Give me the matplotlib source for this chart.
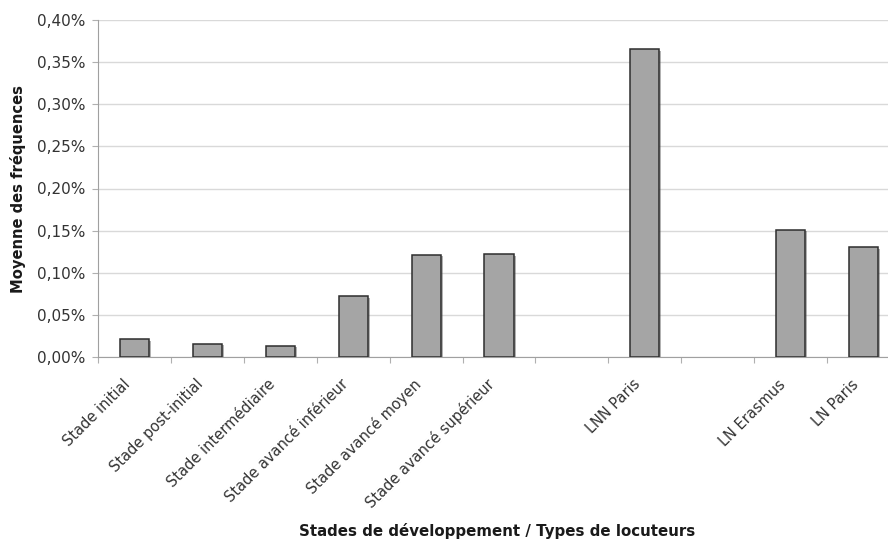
import numpy as np
import matplotlib
matplotlib.use("Agg")
import matplotlib.pyplot as plt
import matplotlib.patheffects as pe
import matplotlib.transforms as mtransforms
from matplotlib.ticker import FuncFormatter

categories = ["Stade initial", "Stade post-initial", "Stade intermédiaire",
              "Stade avancé inférieur", "Stade avancé moyen", "Stade avancé supérieur",
              "", "LNN Paris", "", "LN Erasmus", "LN Paris"]
values = [0.021, 0.016, 0.013, 0.072, 0.121, 0.122, np.nan, 0.365, np.nan, 0.151, 0.130]
y_ticks = [0.00, 0.05, 0.10, 0.15, 0.20, 0.25, 0.30, 0.35, 0.40]

W, H = 888, 541
fig = plt.figure(figsize=(W / 100, H / 100), dpi=100)
ax = fig.add_axes([98 / W, (H - 357) / H, (900 - 98) / W, (357 - 20) / H])

x = np.arange(len(categories))
bars = ax.bar(x, values, width=0.4, color="#a5a5a5", edgecolor="#2e2e2e", linewidth=1.1, zorder=3)
for b in bars:
    b.set_path_effects([pe.SimplePatchShadow(offset=(1.5, -1.0), shadow_rgbFace="#555555", alpha=0.45), pe.Normal()])

ax.set_xlim(-0.5, len(categories) - 0.5)
ax.set_ylim(0, 0.40)
ax.set_yticks(y_ticks)
ax.yaxis.set_major_formatter(FuncFormatter(lambda v, p: f"{v:.2f}%".replace(".", ",")))
ax.grid(axis="y", color="#d9d9d9", linewidth=1.0, zorder=0)
ax.set_axisbelow(True)

ax.set_xticks(np.arange(len(categories) + 1) - 0.5)
ax.set_xticklabels([])
ax.set_xticks(x, minor=True)
ax.set_xticklabels(categories, minor=True)
ax.tick_params(axis="x", which="major", length=4, color="#b0b0b0", direction="out")
ax.tick_params(axis="x", which="minor", length=0, pad=18)
ax.tick_params(axis="y", length=4, color="#b0b0b0", labelsize=11, pad=5)
offset = mtransforms.ScaledTranslation(-7 / 100, 0, fig.dpi_scale_trans)
for lbl in ax.get_xticklabels(minor=True):
    lbl.set_rotation(45)
    lbl.set_ha("right")
    lbl.set_va("center")
    lbl.set_rotation_mode("anchor")
    lbl.set_fontsize(10.5)
    lbl.set_color("#333333")
    lbl.set_transform(lbl.get_transform() + offset)
for lbl in ax.get_yticklabels():
    lbl.set_color("#333333")

for s in ["top", "right"]:
    ax.spines[s].set_visible(False)
ax.spines["left"].set_color("#a0a0a0")
ax.spines["bottom"].set_color("#a0a0a0")

fig.text(18 / W, 1 - 189 / H, "Moyenne des fréquences", rotation=90, ha="center", va="center",
         fontsize=10.6, fontweight="bold", color="#1a1a1a")
fig.text(497 / W, 1 - 531 / H, "Stades de développement / Types de locuteurs", ha="center", va="center",
         fontsize=10.8, fontweight="bold", color="#1a1a1a")

fig.savefig("out.png", dpi=100)
